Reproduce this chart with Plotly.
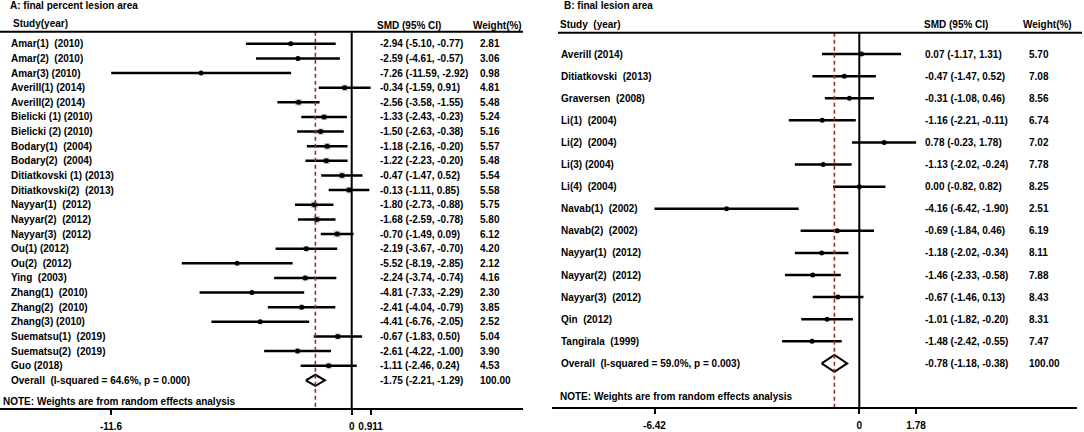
import math
import plotly.graph_objects as go

W, H = 1084, 432

# ---------------- Panel A data ----------------
a_title = "A: final percent lesion area"
a_labels = ["Amar(1)  (2010)", "Amar(2)  (2010)", "Amar(3) (2010)", "Averill(1) (2014)",
            "Averill(2) (2014)", "Bielicki (1) (2010)", "Bielicki (2) (2010)",
            "Bodary(1)  (2004)", "Bodary(2)  (2004)", "Ditiatkovski (1) (2013)",
            "Ditiatkovski(2)  (2013)", "Nayyar(1)  (2012)", "Nayyar(2)  (2012)",
            "Nayyar(3)  (2012)", "Ou(1) (2012)", "Ou(2)  (2012)", "Ying  (2003)",
            "Zhang(1)  (2010)", "Zhang(2)  (2010)", "Zhang(3) (2010)",
            "Suematsu(1)  (2019)", "Suematsu(2)  (2019)", "Guo (2018)"]
a_est = [-2.94, -2.59, -7.26, -0.34, -2.56, -1.33, -1.50, -1.18, -1.22, -0.47, -0.13,
         -1.80, -1.68, -0.70, -2.19, -5.52, -2.24, -4.81, -2.41, -4.41, -0.67, -2.61, -1.11]
a_lo = [-5.10, -4.61, -11.59, -1.59, -3.58, -2.43, -2.63, -2.16, -2.23, -1.47, -1.11,
        -2.73, -2.59, -1.49, -3.67, -8.19, -3.74, -7.33, -4.04, -6.76, -1.83, -4.22, -2.46]
a_hi = [-0.77, -0.57, -2.92, 0.91, -1.55, -0.23, -0.38, -0.20, -0.20, 0.52, 0.85,
        -0.88, -0.78, 0.09, -0.70, -2.85, -0.74, -2.29, -0.79, -2.05, 0.50, -1.00, 0.24]
a_w = [2.81, 3.06, 0.98, 4.81, 5.48, 5.24, 5.16, 5.57, 5.48, 5.54, 5.58, 5.75, 5.80,
       6.12, 4.20, 2.12, 4.16, 2.30, 3.85, 2.52, 5.04, 3.90, 4.53]
a_overall_label = "Overall  (I-squared = 64.6%, p = 0.000)"
a_overall = (-1.75, -2.21, -1.29, 100.00)
a_ticks = [-11.6, 0, 0.911]
a_ticktext = ["-11.6", "0", "0.911"]

# ---------------- Panel B data ----------------
b_title = "B: final lesion area"
b_labels = ["Averill (2014)", "Ditiatkovski  (2013)", "Graversen  (2008)", "Li(1)  (2004)",
            "Li(2)  (2004)", "Li(3) (2004)", "Li(4)  (2004)", "Navab(1)  (2002)",
            "Navab(2)  (2002)", "Nayyar(1)  (2012)", "Nayyar(2)  (2012)",
            "Nayyar(3)  (2012)", "Qin  (2012)", "Tangirala  (1999)"]
b_est = [0.07, -0.47, -0.31, -1.16, 0.78, -1.13, 0.00, -4.16, -0.69, -1.18, -1.46, -0.67, -1.01, -1.48]
b_lo = [-1.17, -1.47, -1.08, -2.21, -0.23, -2.02, -0.82, -6.42, -1.84, -2.02, -2.33, -1.46, -1.82, -2.42]
b_hi = [1.31, 0.52, 0.46, -0.11, 1.78, -0.24, 0.82, -1.90, 0.46, -0.34, -0.58, 0.13, -0.20, -0.55]
b_w = [5.70, 7.08, 8.56, 6.74, 7.02, 7.78, 8.25, 2.51, 6.19, 8.11, 7.88, 8.43, 8.31, 7.47]
b_overall_label = "Overall  (I-squared = 59.0%, p = 0.003)"
b_overall = (-0.78, -1.18, -0.38, 100.00)
b_ticks = [-6.42, 0, 1.78]
b_ticktext = ["-6.42", "0", "1.78"]

note_text = "NOTE: Weights are from random effects analysis"

FONT = "Liberation Sans, Arial, sans-serif"
RED = "#a3262a"


def fix(s):
    return s.replace("  ", " \u00a0")


def fmt(e, l, h):
    return f"{e:.2f} ({l:.2f}, {h:.2f})"


def px(x):
    return x / W


def py(y):
    return 1 - y / H


fig = go.Figure()
annotations = []
shapes = []


def panel(xa, ya, labels, est, lo, hi, w, ov_label, ov, cols, boxes, header_y, axis_y):
    n = len(labels)
    rows = list(range(n))
    if boxes:
        fig.add_trace(go.Scatter(x=est, y=rows, mode="markers", xaxis=xa, yaxis=ya,
                                 marker=dict(symbol="square", color="#b4b4b4",
                                             size=[3.2 * math.sqrt(v) for v in w]),
                                 hoverinfo="skip", showlegend=False))
    fig.add_trace(go.Scatter(x=est, y=rows, mode="markers", xaxis=xa, yaxis=ya,
                             marker=dict(symbol="circle", color="black", size=5),
                             error_x=dict(type="data", symmetric=False,
                                          array=[h - e for h, e in zip(hi, est)],
                                          arrayminus=[e - l for e, l in zip(est, lo)],
                                          width=0, thickness=2.5, color="black"),
                             showlegend=False))
    e, l, h, wt = ov
    hh = 0.38
    fig.add_trace(go.Scatter(x=[l, e, h, e, l], y=[n, n - hh, n, n + hh, n], mode="lines",
                             xaxis=xa, yaxis=ya, fill="toself", fillcolor="white",
                             line=dict(color="black", width=2), showlegend=False))
    yref = "y" if ya == "y" else "y2"
    xref = "x" if xa == "x" else "x2"
    lx, sx, wx = cols
    all_labels = labels + [ov_label]
    all_est = est + [e]
    all_lo = lo + [l]
    all_hi = hi + [h]
    all_w = w + [wt]
    for i in range(n + 1):
        for xx, txt in ((lx, fix(all_labels[i])),
                        (sx, fmt(all_est[i], all_lo[i], all_hi[i])),
                        (wx, f"{all_w[i]:.2f}")):
            annotations.append(dict(x=px(xx), xref="paper", y=i, yref=yref, text=txt,
                                    showarrow=False, xanchor="left", yanchor="middle",
                                    font=dict(family=FONT, size=10, color="black", weight="bold")))
    shapes.append(dict(type="line", xref=xref, x0=0, x1=0, yref="paper",
                       y0=py(header_y), y1=py(axis_y), line=dict(color="black", width=2)))
    shapes.append(dict(type="line", xref=xref, x0=e, x1=e, yref="paper",
                       y0=py(header_y), y1=py(axis_y), line=dict(color=RED, width=1.6, dash="4px,3px")))


panel("x", "y", a_labels, a_est, a_lo, a_hi, a_w, a_overall_label, a_overall,
      (9, 378, 478), True, 32, 410)
panel("x2", "y2", b_labels, b_est, b_lo, b_hi, b_w, b_overall_label, b_overall,
      (559, 923, 1027), False, 33, 409)

shapes.append(dict(type="line", xref="paper", yref="paper", x0=0, x1=px(523), y0=py(32), y1=py(32),
                   line=dict(color="black", width=2)))
shapes.append(dict(type="line", xref="paper", yref="paper", x0=px(558), x1=px(1082), y0=py(33), y1=py(33),
                   line=dict(color="black", width=2)))

hdr_font = dict(family=FONT, size=10, color="black", weight="bold")
for x, y, t in [(8, 6, a_title), (11, 24, "Study(year)"), (375, 26, "SMD (95% CI)"),
                (471, 26, "Weight(%)"), (1, 403, note_text),
                (562, 6, b_title), (558, 25, fix("Study  (year)")), (922, 25, "SMD (95% CI)"),
                (1021, 25, "Weight(%)"), (558, 398, note_text)]:
    annotations.append(dict(x=px(x), y=py(y), xref="paper", yref="paper", text=t, showarrow=False,
                            xanchor="left", yanchor="middle", font=hdr_font))

axis_common = dict(showgrid=False, zeroline=False, showline=True, linecolor="black", linewidth=2,
                   ticks="outside", ticklen=5, tickwidth=1.5, tickcolor="black",
                   ticklabelstandoff=3,
                   tickfont=dict(family=FONT, size=10, color="black", weight="bold"), fixedrange=True)

a0, ascale = 351.7, 20.75
b0, bscale = 859.3, 31.9
a_rowy, a_step = 44.0, 14.7
b_rowy, b_step = 54.3, 22.2

fig.update_layout(
    width=W, height=H, margin=dict(l=0, r=0, t=0, b=0, pad=0),
    paper_bgcolor="white", plot_bgcolor="rgba(0,0,0,0)", showlegend=False,
    xaxis=dict(domain=[0, px(523)], range=[(0 - a0) / ascale, (523 - a0) / ascale],
               anchor="y", tickvals=a_ticks, ticktext=a_ticktext, **axis_common),
    yaxis=dict(domain=[py(410), 1], range=[(410 - a_rowy) / a_step, (0 - a_rowy) / a_step],
               anchor="x", visible=False, fixedrange=True),
    xaxis2=dict(domain=[px(552), px(1077)], range=[(552 - b0) / bscale, (1077 - b0) / bscale],
                anchor="y2", tickvals=b_ticks, ticktext=b_ticktext, **axis_common),
    yaxis2=dict(domain=[py(409), 1], range=[(409 - b_rowy) / b_step, (0 - b_rowy) / b_step],
                anchor="x2", visible=False, fixedrange=True),
    annotations=annotations, shapes=shapes,
)

fig.write_html("out.html", config={"displayModeBar": False},
               post_script="document.body.style.margin='0';document.body.style.overflow='hidden';")
